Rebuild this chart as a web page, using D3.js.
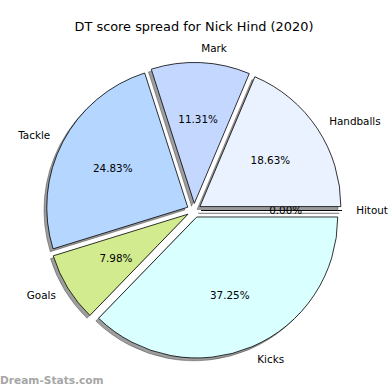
<!DOCTYPE html>
<html>
<head>
<meta charset="utf-8">
<script src="https://cdn.jsdelivr.net/npm/d3@7"></script>
<style>
  body { margin: 0; background: #fff; }
  svg text { font-family: "DejaVu Sans", sans-serif; fill: #000; }
</style>
</head>
<body>
<svg id="pie"></svg>
<script>
// stats in the order matplotlib draws them (counterclockwise from 3 o'clock)
const categories = ['Hitout', 'Handballs', 'Mark', 'Tackle', 'Goals', 'Kicks'];
const shares = [0.00, 18.63, 11.31, 24.83, 7.98, 37.25];
const colors = ['#f0f0f0', '#eaf1ff', '#c4d8ff', '#b5d6ff', '#d1eb8e', '#d9ffff'];

const width = 390, height = 390;
const cx = 194, cy = 210.5, radius = 141;
const explode = 0.05 * radius;

const svg = d3.select('#pie')
  .attr('width', width)
  .attr('height', height);

svg.append('text')
  .attr('x', 194)
  .attr('y', 31)
  .attr('text-anchor', 'middle')
  .style('font-size', '12.9px')
  .text('DT score spread for Nick Hind (2020)');

const data = categories.map((c, i) => ({ name: c, value: shares[i], color: colors[i] }));

// counterclockwise, starting east
const pie = d3.pie()
  .sort(null)
  .value(d => d.value)
  .startAngle(Math.PI / 2)
  .endAngle(Math.PI / 2 - 2 * Math.PI);

const arcs = pie(data);
const arc = d3.arc().innerRadius(0).outerRadius(radius);

const mid = d => (d.startAngle + d.endAngle) / 2;
const offset = (d, r) => [Math.sin(mid(d)) * r, -Math.cos(mid(d)) * r];

const g = svg.append('g').attr('transform', `translate(${cx},${cy})`);

// shadows underneath
g.selectAll('.shadow')
  .data(arcs)
  .join('path')
  .attr('class', 'shadow')
  .attr('transform', d => {
    const [ox, oy] = offset(d, explode);
    return `translate(${ox - 2.8},${oy + 2.8})`;
  })
  .attr('d', arc)
  .attr('fill', '#000')
  .attr('fill-opacity', 0.38)
  .attr('stroke', '#000')
  .attr('stroke-opacity', 0.38)
  .attr('stroke-width', 0.8);

const wedges = g.selectAll('.wedge')
  .data(arcs)
  .join('g')
  .attr('class', 'wedge')
  .attr('transform', d => {
    const [ox, oy] = offset(d, explode);
    return `translate(${ox},${oy})`;
  });

wedges.append('path')
  .attr('d', arc)
  .attr('fill', d => d.data.color)
  .attr('stroke', '#000')
  .attr('stroke-width', 0.8)
  .attr('stroke-linejoin', 'round');

// category labels at 1.1 r
wedges.append('text')
  .attr('x', d => offset(d, radius * 1.1)[0])
  .attr('y', d => offset(d, radius * 1.1)[1])
  .attr('dy', '0.35em')
  .attr('text-anchor', d => offset(d, 1)[0] > 0 ? 'start' : 'end')
  .style('font-size', '10.4px')
  .text(d => d.data.name);

// percentages at 0.6 r
wedges.append('text')
  .attr('x', d => offset(d, radius * 0.6)[0])
  .attr('y', d => offset(d, radius * 0.6)[1])
  .attr('dy', '0.35em')
  .attr('text-anchor', 'middle')
  .style('font-size', '10.4px')
  .text(d => d.data.value.toFixed(2) + '%');

svg.append('text')
  .attr('x', 0)
  .attr('y', 384)
  .style('font-size', '10.6px')
  .style('font-weight', 'bold')
  .style('fill', '#a6a6a6')
  .text('Dream-Stats.com');
</script>
</body>
</html>
